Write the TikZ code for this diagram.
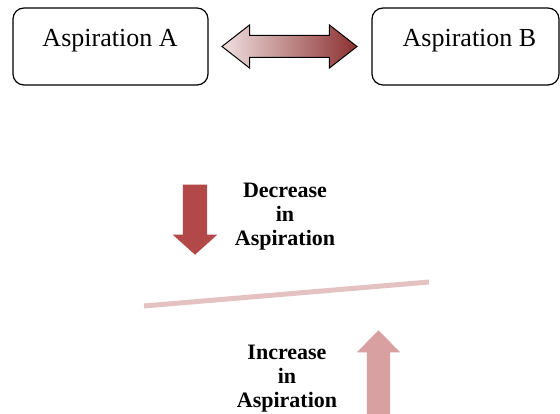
\documentclass[tikz,border=0pt]{standalone}
\usepackage{fontspec}
\setmainfont{Liberation Serif}
\usepackage{tikz}
\usetikzlibrary{shapes.arrows, positioning}
\definecolor{linkdark}{RGB}{140,48,48}
\definecolor{linklight}{RGB}{240,224,224}
\definecolor{downred}{RGB}{178,72,72}
\definecolor{uppink}{RGB}{216,160,160}
\definecolor{levelpink}{RGB}{228,194,194}

\begin{document}
\begin{tikzpicture}[x=1pt, y=1pt,
  aspbox/.style={draw=black, line width=1.2pt, rounded corners=11pt,
                 minimum height=77pt, inner sep=0pt},
  asptext/.style={font=\fontsize{26}{30}\selectfont, anchor=base, inner sep=0pt},
  changetext/.style={font=\fontsize{22}{24}\selectfont\bfseries,
                     align=center, anchor=north, inner sep=0pt},
  linkarrow/.style={double arrow, draw=black, line width=1pt,
                    left color=linklight, right color=linkdark,
                    inner sep=0pt, inner ysep=10.5pt, minimum width=0pt,
                    double arrow head extend=10.5pt, double arrow tip angle=76,
                    minimum height=135pt},
  blockarrow/.style={single arrow, inner sep=0pt, minimum width=0pt, draw=none},
]
\useasboundingbox (0,0) rectangle (560,414);

% the two aspirations
\node[aspbox, minimum width=195pt] (aspA) at (110.5,367.5) {};
\node[aspbox, minimum width=187pt] (aspB) at (465.5,367.5) {};
\node[asptext] (aspAtext) at (110,367) {Aspiration A};
\node[asptext] (aspBtext) at (469.5,367) {Aspiration B};

\node[linkarrow] (link) at (289.5,367.5) {};

% decrease
\node[blockarrow, fill=downred, rotate=-90, anchor=tip,
      inner ysep=12pt, single arrow head extend=10pt,
      single arrow tip angle=96, minimum height=70pt] (downarr) at (195,159) {};
\node[changetext] (dectext) at (285,231) {Decrease\\in\\Aspiration};

% level line
\coordinate (levelL) at (144,108);
\coordinate (levelR) at (429,132);
\draw[levelpink, line width=5pt] (levelL) -- (levelR);

% increase
\node[blockarrow, fill=uppink, rotate=90, anchor=tip,
      inner ysep=11.5pt, single arrow head extend=10pt,
      single arrow tip angle=89, minimum height=86pt] (uparr) at (378.5,84) {};
\node[changetext] (inctext) at (287,69) {Increase\\in\\Aspiration};

\end{tikzpicture}
\end{document}
